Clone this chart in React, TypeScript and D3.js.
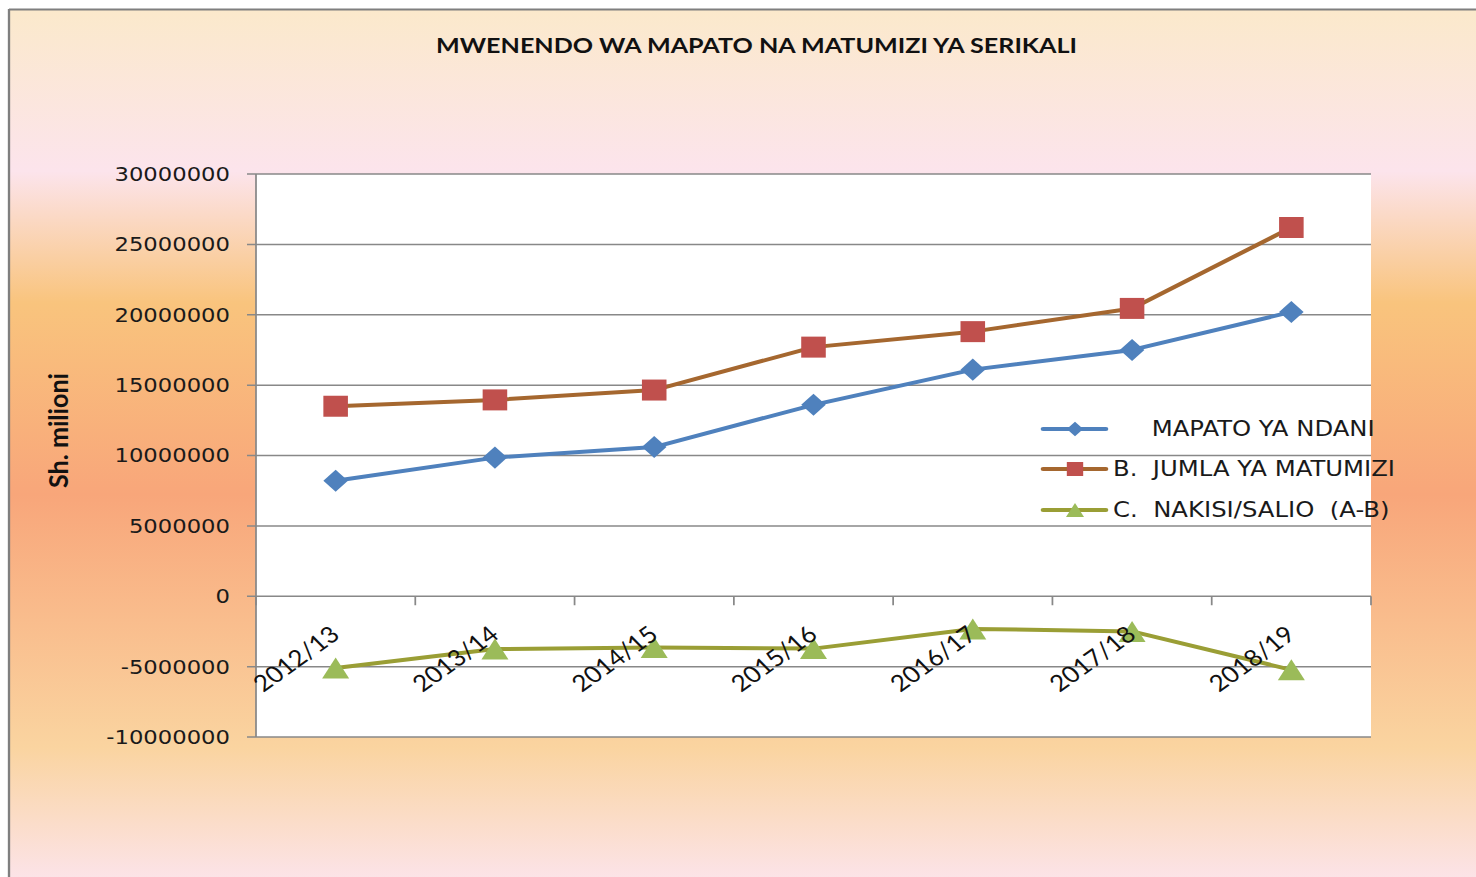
import React from "react";
import * as d3 from "d3";

// chart values
const years = ["2012/13", "2013/14", "2014/15", "2015/16", "2016/17", "2017/18", "2018/19"];
const mapatoNdani = [8200000, 9850000, 10600000, 13600000, 16100000, 17500000, 20200000];
const jumlaMatumizi = [13500000, 13950000, 14650000, 17700000, 18800000, 20450000, 26200000];
const nakisiSalio = [-5100000, -3750000, -3650000, -3720000, -2320000, -2500000, -5230000];
const yTicks = [-10000000, -5000000, 0, 5000000, 10000000, 15000000, 20000000, 25000000, 30000000];
const seriesNames = ["     MAPATO YA NDANI", "B.  JUMLA YA MATUMIZI", "C.  NAKISI/SALIO  (A-B)"];

// the reference is stretched horizontally, so draw in a narrower viewBox
const SX = 1.17;
const W = 1476,
  H = 877;
const VW = W / SX;
const vx = (px: number) => px / SX;

const series = [
  { name: seriesNames[0], values: mapatoNdani, line: "#4F81BD", fill: "#4F81BD", marker: "diamond" },
  { name: seriesNames[1], values: jumlaMatumizi, line: "#A5672F", fill: "#C0504D", marker: "square" },
  { name: seriesNames[2], values: nakisiSalio, line: "#9A9E35", fill: "#9BBB59", marker: "triangle" },
];

function markerPath(kind: string, cx: number, cy: number, s: number) {
  if (kind === "diamond") {
    return `M${cx},${cy - s * 1.05} L${cx + s},${cy} L${cx},${cy + s * 1.05} L${cx - s},${cy} Z`;
  }
  if (kind === "square") {
    return `M${cx - s},${cy - s} h${2 * s} v${2 * s} h${-2 * s} Z`;
  }
  return `M${cx},${cy - s} L${cx + s * 1.1},${cy + s} L${cx - s * 1.1},${cy + s} Z`;
}

export default function App() {
  const x = d3.scaleBand<string>().domain(years).range([vx(256), vx(1371)]);
  const y = d3.scaleLinear().domain([-10000000, 30000000]).range([737, 174]);
  const cx = (i: number) => (x(years[i]) as number) + x.bandwidth() / 2;
  const line = d3
    .line<number>()
    .x((_, i) => cx(i))
    .y((d) => y(d));

  const [x0, x1] = x.range();
  const boundaries = d3.range(years.length + 1).map((i) => x0 + i * x.bandwidth());
  const y0 = y(0);

  const legendRows = [429, 469, 510];

  return (
    <div style={{ position: "absolute", left: 0, top: 0 }}>
      <svg width={W} height={H} viewBox={`0 0 ${VW} ${H}`} preserveAspectRatio="none" style={{ display: "block" }}>
        <defs>
          <linearGradient id="bg" x1="0" y1="0" x2="0" y2="1">
            <stop offset="0" stopColor="#FBE9CB" />
            <stop offset="0.185" stopColor="#FCE4EC" />
            <stop offset="0.335" stopColor="#F9C47D" />
            <stop offset="0.554" stopColor="#F8A67A" />
            <stop offset="0.842" stopColor="#FAD4A0" />
            <stop offset="1" stopColor="#FCE4EC" />
          </linearGradient>
        </defs>
        <rect x={0} y={0} width={VW} height={H} fill="#fff" />
        <rect x={vx(9)} y={9} width={VW} height={H} fill="url(#bg)" />
        <line x1={vx(9)} x2={VW} y1={9.5} y2={9.5} stroke="#7f7f7f" strokeWidth={2} />
        <line x1={vx(9)} x2={vx(9)} y1={9} y2={H} stroke="#7f7f7f" strokeWidth={2} />

        <text
          x={vx(756.5)}
          y={53}
          textAnchor="middle"
          fontFamily="Lato, sans-serif"
          fontWeight="bold"
          fontSize={20}
          textLength={vx(641)}
          lengthAdjust="spacingAndGlyphs"
          fill="#111"
        >
          MWENENDO WA MAPATO NA MATUMIZI YA SERIKALI
        </text>

        {/* plot area */}
        <rect x={x0} y={y(30000000)} width={x1 - x0} height={y(-10000000) - y(30000000)} fill="#fff" />

        {yTicks.map((t) => (
          <g key={t}>
            <line x1={vx(247)} x2={x1} y1={y(t)} y2={y(t)} stroke="#888" strokeWidth={1.5} />
            <text
              x={vx(230)}
              y={y(t) + 7}
              textAnchor="end"
              fontFamily="'DejaVu Sans', sans-serif"
              fontSize={19.4}
              fill="#1a1a1a"
            >
              {t}
            </text>
          </g>
        ))}
        <line x1={x0} x2={x0} y1={y(30000000)} y2={y(-10000000)} stroke="#888" strokeWidth={1.5} />
        {boundaries.map((b, i) => (
          <line key={i} x1={b} x2={b} y1={y0} y2={y0 + 9} stroke="#888" strokeWidth={1.5} />
        ))}

        <text
          transform={`translate(${vx(68)},${430.5}) rotate(-90)`}
          textAnchor="middle"
          fontFamily="Lato, sans-serif"
          fontWeight="bold"
          fontSize={22}
          textLength={115}
          lengthAdjust="spacingAndGlyphs"
          fill="#111"
        >
          Sh. milioni
        </text>

        {/* legend */}
        {series.map((s, i) => (
          <g key={s.name}>
            <line
              x1={vx(1043)}
              x2={vx(1106)}
              y1={legendRows[i]}
              y2={legendRows[i]}
              stroke={s.line}
              strokeWidth={4}
              strokeLinecap="round"
            />
            <path d={markerPath(s.marker, vx(1075), legendRows[i], 7)} fill={s.fill} />
            <text
              x={vx(1113)}
              y={legendRows[i] + 7}
              fontFamily="'DejaVu Sans', sans-serif"
              fontSize={20.8}
              fill="#1a1a1a"
              style={{ whiteSpace: "pre" }}
            >
              {s.name}
            </text>
          </g>
        ))}

        {/* series */}
        {series.map((s) => (
          <g key={s.name + "-line"}>
            <path d={line(s.values) || ""} fill="none" stroke={s.line} strokeWidth={4} strokeLinejoin="round" />
            {s.values.map((v, i) => (
              <path key={i} d={markerPath(s.marker, cx(i), y(v), 10.5)} fill={s.fill} />
            ))}
          </g>
        ))}

        {/* category labels */}
        {years.map((yr, i) => (
          <text
            key={yr}
            transform={`translate(${cx(i) + 4.7},${637}) rotate(-40)`}
            textAnchor="end"
            fontFamily="Lato, sans-serif"
            fontSize={23}
            textLength={87}
            lengthAdjust="spacingAndGlyphs"
            fill="#111"
          >
            {yr}
          </text>
        ))}
      </svg>
    </div>
  );
}
